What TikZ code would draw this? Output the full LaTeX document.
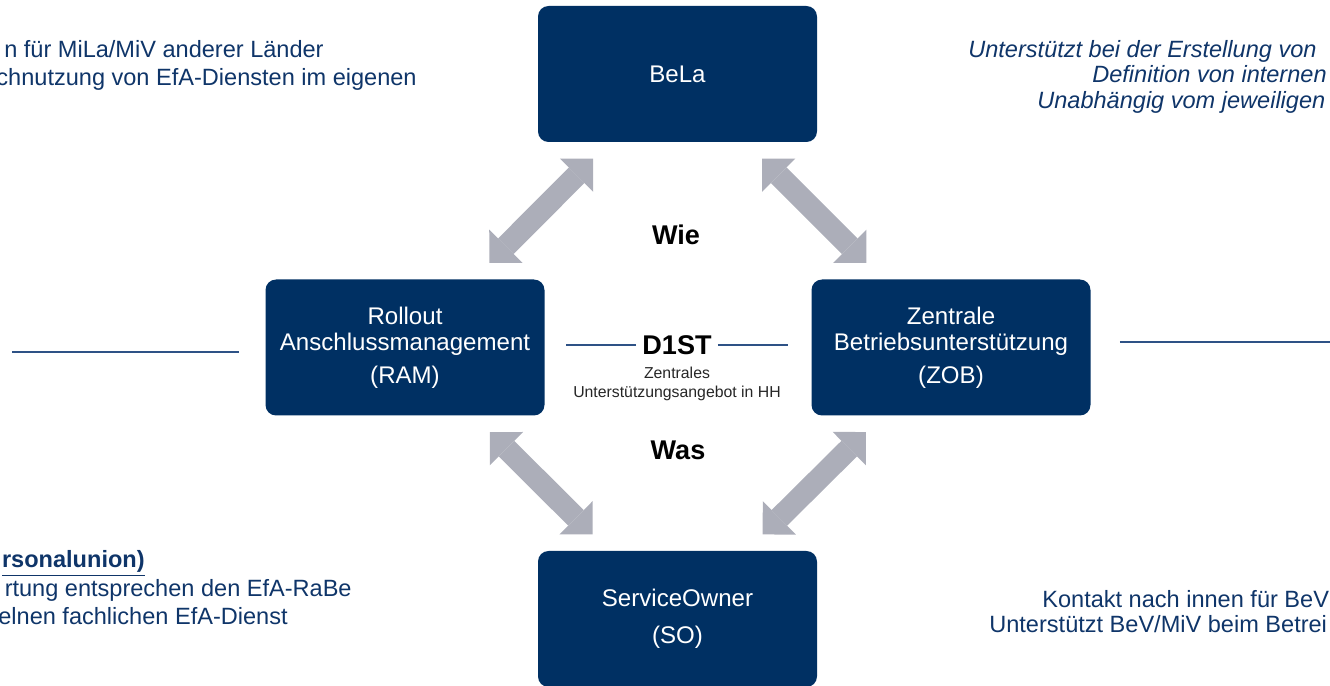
\documentclass[tikz,border=0pt]{standalone}
\usepackage{fontspec}
\setmainfont{Liberation Sans}
\usepackage{xcolor}
\usepackage{tikz}
\usetikzlibrary{arrows.meta,calc}
\definecolor{dstnavy}{HTML}{003063}
\definecolor{dstblue}{HTML}{0F3569}
\definecolor{dstline}{HTML}{2E5286}
\definecolor{dstgray}{HTML}{ACAEB9}

\begin{document}
\begin{tikzpicture}[
    x=1cm,y=1cm,
    blk/.style = {rectangle,rounded corners=6pt,fill=dstnavy,text=white,align=center,
                  font=\fontsize{13.7}{14.8}\selectfont,minimum width=5.58cm,minimum height=2.72cm},
    pfl/.style = {{Triangle[length=0.47cm,width=0.94cm,line width=0pt]}-{Triangle[length=0.47cm,width=0.94cm,line width=0pt]},
                  draw=dstgray,line width=0.44cm,shorten <=0.46cm,shorten >=0.46cm},
    lin/.style = {draw=dstline,line width=1.2pt},
    neb/.style = {font=\fontsize{13.4}{15.4}\selectfont,text=dstblue,inner sep=0pt},
    kur/.style = {neb,font=\fontsize{13.4}{15.4}\selectfont\itshape},
    frg/.style = {font=\fontsize{15.4}{18}\selectfont\bfseries,text=black},
    unt/.style = {font=\fontsize{9}{10.8}\selectfont,text=black!85,align=center},
  ]

  \useasboundingbox (0,0) rectangle (26.6,-13.72);
  \clip (0,0) rectangle (26.6,-13.72);

  % Bloecke
  \node[blk] (bela) at (13.55,-1.48)  {BeLa};
  \node[blk] (ram)  at (8.10,-6.95)   {Rollout\\Anschlussmanagement\\[4pt](RAM)};
  \node[blk] (zob)  at (19.02,-6.95)  {Zentrale\\Betriebsunterstützung\\[4pt](ZOB)};
  \node[blk] (so)   at (13.55,-12.38) {ServiceOwner\\[6pt](SO)};

  % Pfeile
  \draw[pfl] (ram) -- (bela);
  \draw[pfl] (zob) -- (bela);
  \draw[pfl] (ram) -- (so);
  \draw[pfl] (zob) -- (so);

  % Mitte
  \node[frg] (wie)  at (13.52,-4.70) {Wie};
  \node[frg] (was)  at (13.56,-9.00) {Was};
  \node[frg] (d1st) at (13.54,-6.90) {D1ST};
  \node[unt] (zua)  at (13.54,-7.68) {Zentrales\\Unterstützungsangebot in HH};
  \draw[lin] (d1st.west) -- ++(-1.4,0);
  \draw[lin] (d1st.east) -- ++(1.4,0);

  % Linien aussen
  \draw[lin] ([xshift=-0.52cm,yshift=-0.09cm]ram.west) -- ++(-4.55,0);
  \draw[lin] ([xshift=0.58cm,yshift=0.11cm]zob.east)  -- ++(4.6,0);

  % Nebentexte oben
  \node[neb,anchor=base east] (tl1) at (6.48,-1.16) {n für MiLa/MiV anderer Länder};
  \node[neb,anchor=base east] (tl2) at (8.34,-1.71) {chnutzung von EfA-Diensten im eigenen};
  \node[kur,anchor=base west] (tr1) at (19.36,-1.16) {Unterstützt bei der Erstellung von};
  \node[kur,anchor=base west] (tr2) at (21.84,-1.66) {Definition von internen};
  \node[kur,anchor=base west] (tr3) at (20.74,-2.17) {Unabhängig vom jeweiligen};

  % Nebentexte unten
  \node[neb,anchor=base east] (bl1) at (2.90,-11.36) {\underline{\textbf{rsonalunion)}}};
  \node[neb,anchor=base east] (bl2) at (7.04,-11.94) {rtung entsprechen den EfA-RaBe};
  \node[neb,anchor=base east] (bl3) at (5.76,-12.50) {elnen fachlichen EfA-Dienst};
  \node[neb,anchor=base west] (br1) at (20.84,-12.16) {Kontakt nach innen für BeV};
  \node[neb,anchor=base west] (br2) at (19.78,-12.66) {Unterstützt BeV/MiV beim Betrei};

\end{tikzpicture}
\end{document}
